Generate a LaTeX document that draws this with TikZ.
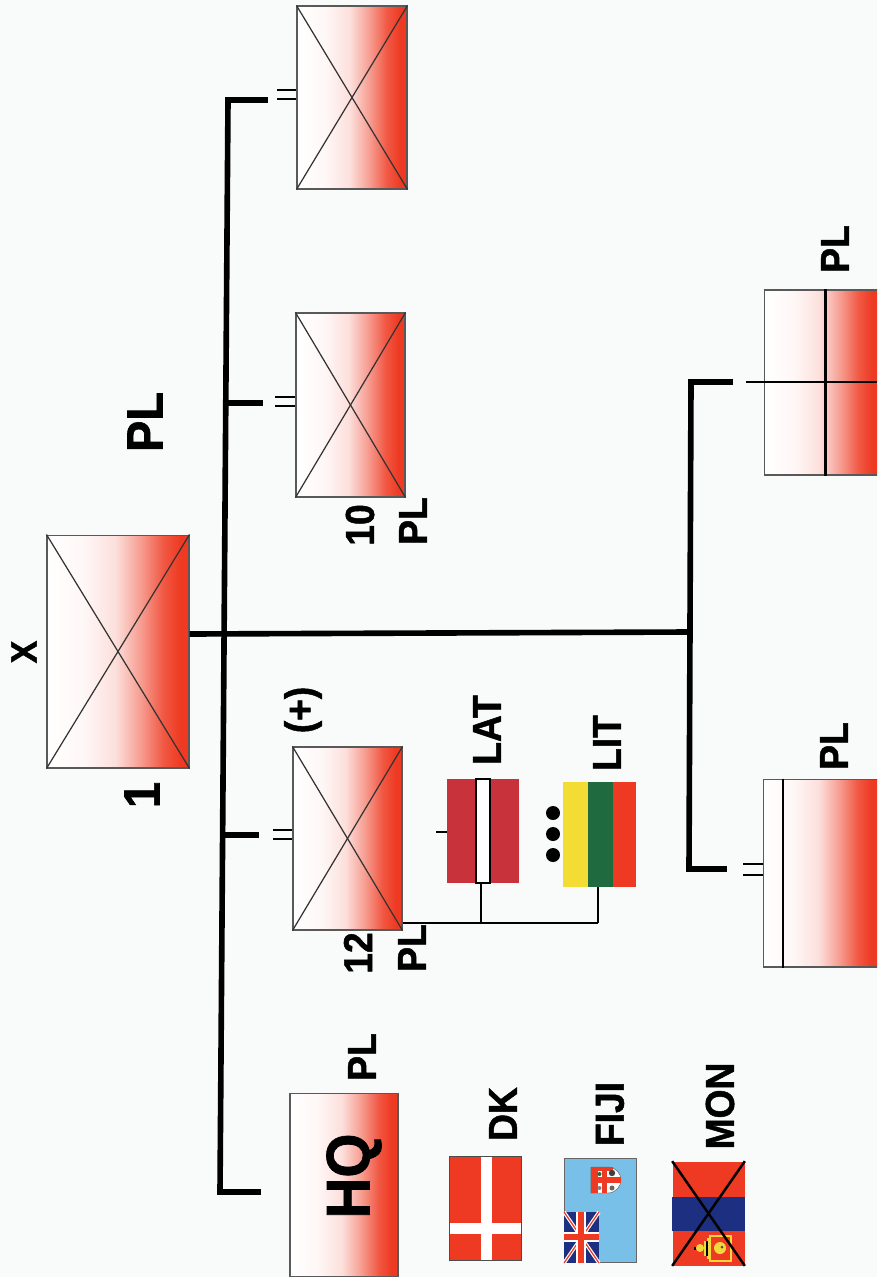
\documentclass[tikz,border=0pt]{standalone}
\usepackage{fontspec}
\setmainfont[FakeStretch=0.92,BoldFeatures={FakeBold=1.2}]{Liberation Sans}
\usepackage{tikz}

\definecolor{paper}{HTML}{F9FAFA}
\definecolor{dkred}{HTML}{EE3A22}
\definecolor{latred}{HTML}{C8323A}
\definecolor{litgreen}{HTML}{1F6B3F}
\definecolor{fijiblue}{HTML}{78C0E8}
\definecolor{navy}{HTML}{1C2F80}
\definecolor{gold}{HTML}{F2D83A}
\pgfdeclarehorizontalshading{fadered}{100bp}{color(0bp)=(white);color(25bp)=(white);color(38bp)=(white!96!dkred);color(49bp)=(dkred!16!white);color(58bp)=(dkred!50!white);color(66bp)=(dkred!85!white);color(72bp)=(dkred);color(100bp)=(dkred)}

\begin{document}
\begin{tikzpicture}[x=0.02cm,y=-0.02cm,
unit/.style={draw=black!65,line width=.6pt,rectangle,inner sep=0,shading=fadered},
flag/.style={rectangle,inner sep=0,minimum width=1.44cm,minimum height=2.08cm},
lab/.style={rotate=90,inner sep=0,font=\bfseries\fontsize{23}{23}\selectfont},
biglab/.style={rotate=90,inner sep=0,font=\bfseries\fontsize{29}{29}\selectfont},
bus/.style={line width=3.2pt,line cap=butt},
link/.style={line width=1.1pt},
tick/.style={line width=.9pt},
thinln/.style={line width=.7pt,black!80}]
\useasboundingbox (0,0) rectangle (877,1277);
\clip (0,0) rectangle (877,1277);
\fill[paper] (0,0) rectangle (877,1277);

\node[unit,minimum width=2.84cm,minimum height=4.66cm](u1) at (118,651.5){};
\node[unit,minimum width=2.2cm,minimum height=3.66cm](u2) at (352,97.5){};
\node[unit,minimum width=2.18cm,minimum height=3.68cm](u3) at (350.5,405){};
\node[unit,minimum width=2.18cm,minimum height=3.66cm](u4) at (347.5,838.5){};
\node[unit,minimum width=2.16cm,minimum height=3.66cm](u5) at (344,1185){};
\node[unit,minimum width=2.3cm,minimum height=3.7cm](u6) at (822,382.5){};
\node[unit,minimum width=2.3cm,minimum height=3.76cm](u7) at (821,873){};

\draw[thinln](u1.north west)--(u1.south east);
\draw[thinln](u1.south west)--(u1.north east);
\draw[thinln](u2.north west)--(u2.south east);
\draw[thinln](u2.south west)--(u2.north east);
\draw[thinln](u3.north west)--(u3.south east);
\draw[thinln](u3.south west)--(u3.north east);
\draw[thinln](u4.north west)--(u4.south east);
\draw[thinln](u4.south west)--(u4.north east);

\coordinate (b1) at (228,98);
\coordinate (b2) at (220,1192);
\coordinate (b3) at (691,380);
\coordinate (b4) at (689,869);
\coordinate (t2) at (265,100);
\coordinate (t3) at (263,403);
\coordinate (t4) at (259,835);
\coordinate (t5) at (258,1192);
\coordinate (t6) at (730,382);
\coordinate (t7) at (724,869);
\coordinate (j1) at (690,632);

\draw[bus](u1.east|-0,634)--(j1);
\draw[bus,line cap=rect](t2)--(b1|-t2)--(b2|-t5)--(t5);
\draw[bus](b2|-0,835)--(t4);
\draw[bus](226,403)--(t3);
\draw[bus,line cap=rect](t6)--(b3|-t6)--(b4|-t7)--(t7);

\draw[tick](277,90)--(u2.west|-0,90);
\draw[tick](277,99)--(u2.west|-0,99);
\draw[tick](275,397)--(u3.west|-0,397);
\draw[tick](275,406)--(u3.west|-0,406);
\draw[tick](273,830)--(u4.west|-0,830);
\draw[tick](273,839)--(u4.west|-0,839);
\draw[tick](743,864)--(u7.west|-0,864);
\draw[tick](743,875)--(u7.west|-0,875);

\draw[bus,line width=1.4pt](746,382)--(877,382);
\draw[bus,line width=1.7pt](825,0|-u6.north)--(825,0|-u6.south);
\draw[link](783,0|-u7.north)--(783,0|-u7.south);

\node[flag,fill=latred](f1) at (483,831){};
\node[draw=black,line width=.8pt,fill=white,rectangle,inner sep=0,minimum width=.28cm,minimum height=2.08cm](f1w) at (483,831){};
\node[flag](f2) at (599.5,834.5){};
\node[flag,fill=dkred,draw=black!70,line width=.4pt](f3) at (485.5,1208.5){};
\node[flag,fill=fijiblue,draw=black!60,line width=.4pt](f4) at (600,1210.5){};
\node[flag,fill=dkred](f5) at (708.5,1213.5){};
\fill[gold!90!yellow] (563,782) rectangle (588,887);
\fill[litgreen] (588,782) rectangle (613,887);
\fill[dkred] (613,782) rectangle (636,887);

\fill[white] (481,1157) rectangle (492,1260);
\fill[white] (450,1223) rectangle (521,1234);

\fill[navy] (564,1212) rectangle (599,1263);
\draw[white,line width=2pt] (564,1212)--(599,1263);
\draw[white,line width=2pt] (599,1212)--(564,1263);
\draw[dkred,line width=.7pt] (564,1212)--(599,1263);
\draw[dkred,line width=.7pt] (599,1212)--(564,1263);
\fill[white] (576,1212) rectangle (586,1263);
\fill[white] (564,1232) rectangle (599,1242);
\fill[dkred] (578,1212) rectangle (584,1263);
\fill[dkred] (564,1234) rectangle (599,1240);

\fill[white,draw=black!60,line width=.3pt] (591,1167) -- (608,1167) .. controls (616,1167) and (621,1174) .. (621,1180) .. controls (621,1186) and (616,1193) .. (608,1193) -- (591,1193) -- cycle;
\fill[dkred] (591,1167) rectangle (598,1193);
\fill[dkred] (591,1177) rectangle (621,1183);
\fill[dkred] (602,1167) rectangle (607,1193);
\fill[dkred] (591,1167) rectangle (613,1171);
\fill[black!75] (612,1173) circle (3.2);
\fill[black!60] (612,1188) circle (2.5);
\fill[litgreen] (599.5,1174) circle (2);
\fill[black!50] (599.5,1188) circle (2);

\fill[navy] (672,1197) rectangle (745,1231);
\draw[gold,line width=1pt] (710,1236) rectangle (731,1261);
\draw[gold,line width=1pt] (708,1238)--(708,1259);
\fill[gold] (720,1248) circle (6);
\fill[black!70] (722,1247) circle (1.5);
\fill[gold] (700,1248) circle (4);
\fill[black] (694,1247) rectangle (696,1250);
\draw[gold,line width=1pt] (705,1241)--(705,1256);
\draw[black,line width=.6pt] (707,1241)--(707,1256);
\draw[line width=1.4pt] (f5.north west)--(f5.south east);
\draw[line width=1.4pt] (f5.north east)--(f5.south west);

\coordinate (d0) at (481,923);
\coordinate (d1) at (598,923);
\draw[link](u4.east|-d0)--(d1);
\draw[link](481,883)--(d0);
\draw[link](598,887)--(d1);
\draw[tick](436,832)--(f1.west|-0,832);

\fill (553,813) circle (7);
\fill (553,834) circle (7);
\fill (553,855) circle (7);

\node[lab,font=\bfseries\fontsize{21}{21}\selectfont](xl) at (24,652){X};
\node[biglab](l1) at (142,795){1};
\node[biglab](l2) at (145,422){PL};
\node[lab](l3) at (360,525){10};
\node[lab](l4) at (413,521){PL};
\node[lab](l5) at (358,953){12};
\node[lab](l6) at (412,948){PL};
\node[lab](l7) at (303,710){(+)};
\node[lab](l8) at (487,730){LAT};
\node[lab](l9) at (607,743){LIT};
\node[lab](l10) at (362,1057){PL};
\node[lab,font=\bfseries\fontsize{35}{35}\selectfont](l11) at (354,1176){HQ};
\node[lab](l12) at (503,1114){DK};
\node[lab](l13) at (610,1114){FIJI};
\node[lab](l14) at (720,1106){MON};
\node[lab](l15) at (835,249){PL};
\node[lab](l16) at (834,746){PL};
\end{tikzpicture}
\end{document}
